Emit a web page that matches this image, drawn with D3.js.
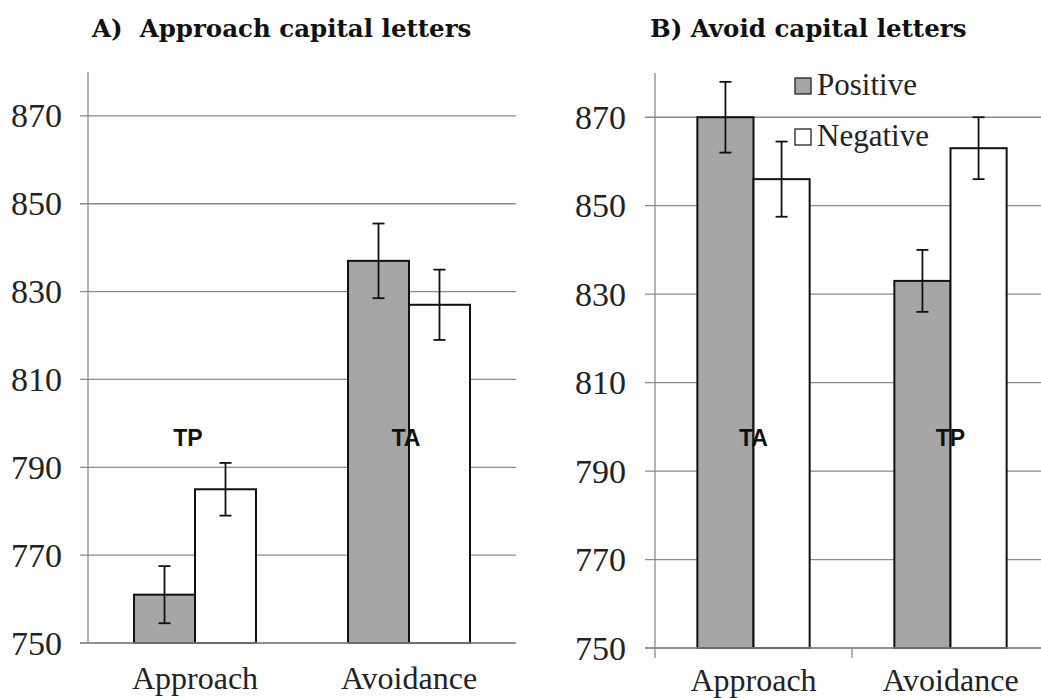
<!DOCTYPE html>
<html>
<head>
<meta charset="utf-8">
<script src="https://cdn.jsdelivr.net/npm/d3@7"></script>
<style>
  html, body { margin: 0; padding: 0; background: #fff; }
  svg { display: block; }
</style>
</head>
<body>
<svg id="chart" width="1041" height="698"></svg>
<script>
// Reaction times (ms) by task and valence
const categories = ["Approach", "Avoidance"];
const seriesNames = ["Positive", "Negative"];
const yTicks = [750, 770, 790, 810, 830, 850, 870];

const approachPositive = [761, 837];
const approachNegative = [785, 827];
const approachPositiveErr = [6.5, 8.5];
const approachNegativeErr = [6, 8];
const approachTags = ["TP", "TA"];

const avoidPositive = [870, 833];
const avoidNegative = [856, 863];
const avoidPositiveErr = [8, 7];
const avoidNegativeErr = [8.5, 7];
const avoidTags = ["TA", "TP"];

const fills = { Positive: "#a6a6a6", Negative: "#ffffff" };
const gridColor = "#8a8a8a";
const SERIF = '"Liberation Serif", "Times New Roman", Times, serif';
const TITLE_FONT = '"DejaVu Serif", serif';
const SANS = '"Liberation Sans", Arial, sans-serif';

const svg = d3.select("#chart");

function drawPanel(p) {
  const g = svg.append("g");
  const y = d3.scaleLinear().domain([750, 880]).range([p.bottom, p.top]);
  const x0 = d3.scaleBand().domain(categories)
    .range([p.left, p.right]).paddingInner(0.43).paddingOuter(0.215);
  const x1 = d3.scaleBand().domain(seriesNames).range([0, x0.bandwidth()]);
  const step = x0.step();

  // horizontal gridlines with tick stubs on the left
  g.selectAll("line.grid").data(yTicks).join("line")
    .attr("x1", p.left - p.tickLen).attr("x2", p.gridEnd)
    .attr("y1", d => y(d)).attr("y2", d => y(d))
    .attr("stroke", gridColor).attr("stroke-width", 1.3);

  // y axis line
  g.append("line")
    .attr("x1", p.left).attr("x2", p.left)
    .attr("y1", p.top).attr("y2", p.bottom + (p.catTicks ? 10 : 0))
    .attr("stroke", gridColor).attr("stroke-width", 1.3);

  if (p.catTicks) {
    g.append("line")
      .attr("x1", p.left + step).attr("x2", p.left + step)
      .attr("y1", p.bottom).attr("y2", p.bottom + 10)
      .attr("stroke", gridColor).attr("stroke-width", 1.3);
  }

  // tick labels
  g.selectAll("text.tick").data(yTicks).join("text")
    .attr("x", p.labelX).attr("y", d => y(d))
    .attr("dy", "0.34em").attr("text-anchor", "end")
    .style("font-family", SERIF).style("font-size", "34px")
    .attr("fill", "#222").text(d => d);

  // bars
  const rows = categories.map((c, i) => ({
    cat: c,
    vals: [
      { s: "Positive", v: p.pos[i], e: p.posErr[i] },
      { s: "Negative", v: p.neg[i], e: p.negErr[i] }
    ]
  }));
  const cg = g.selectAll("g.cat").data(rows).join("g")
    .attr("transform", d => `translate(${x0(d.cat)},0)`);
  cg.selectAll("rect").data(d => d.vals).join("rect")
    .attr("x", d => x1(d.s)).attr("width", x1.bandwidth())
    .attr("y", d => y(d.v)).attr("height", d => y(750) - y(d.v))
    .attr("fill", d => fills[d.s]).attr("stroke", "#111").attr("stroke-width", 2);

  // error bars
  const eb = cg.selectAll("g.err").data(d => d.vals).join("g")
    .attr("transform", d => `translate(${x1(d.s) + x1.bandwidth() / 2},0)`);
  eb.append("line").attr("x1", 0).attr("x2", 0)
    .attr("y1", d => y(d.v + d.e)).attr("y2", d => y(d.v - d.e));
  eb.append("line").attr("x1", -6).attr("x2", 6)
    .attr("y1", d => y(d.v + d.e)).attr("y2", d => y(d.v + d.e));
  eb.append("line").attr("x1", -6).attr("x2", 6)
    .attr("y1", d => y(d.v - d.e)).attr("y2", d => y(d.v - d.e));
  eb.selectAll("line").attr("stroke", "#111").attr("stroke-width", 1.8);

  // condition tags
  g.selectAll("text.tag").data(categories).join("text")
    .attr("x", (d, i) => x0(d) + x0.bandwidth() / 2 + p.tagShift[i])
    .attr("y", 446).attr("text-anchor", "middle")
    .style("font-family", SANS).style("font-weight", "bold").style("font-size", "23px")
    .attr("fill", "#111").text((d, i) => p.tags[i]);

  // x axis line
  g.append("line")
    .attr("x1", p.left - p.tickLen).attr("x2", p.gridEnd)
    .attr("y1", p.bottom).attr("y2", p.bottom)
    .attr("stroke", gridColor).attr("stroke-width", 1.3);

  // category labels
  g.selectAll("text.cat").data(categories).join("text")
    .attr("x", d => x0(d) + x0.bandwidth() / 2).attr("y", p.catY)
    .attr("text-anchor", "middle")
    .style("font-family", SERIF).style("font-size", "32px")
    .attr("fill", "#222").text(d => d);

  // panel title
  g.append("text")
    .attr("x", p.titleX).attr("y", 37)
    .style("font-family", TITLE_FONT).style("font-weight", "bold")
    .style("font-size", "24.5px").style("white-space", "pre")
    .attr("fill", "#111")
    .text(p.title);

  return { x0, y };
}

drawPanel({
  title: "A)  Approach capital letters", titleX: 92,
  left: 88, right: 516, top: 72, bottom: 643, gridEnd: 516, tickLen: 8,
  labelX: 62, catY: 689, catTicks: false,
  pos: approachPositive, neg: approachNegative,
  posErr: approachPositiveErr, negErr: approachNegativeErr,
  tags: approachTags, tagShift: [-7, -3]
});

drawPanel({
  title: "B) Avoid capital letters", titleX: 650,
  left: 655, right: 1049, top: 73, bottom: 648, gridEnd: 1041, tickLen: 10,
  labelX: 626, catY: 691, catTicks: true,
  pos: avoidPositive, neg: avoidNegative,
  posErr: avoidPositiveErr, negErr: avoidNegativeErr,
  tags: avoidTags, tagShift: [0, 0]
});

// legend
const legend = svg.append("g");
const legendRows = [
  { s: "Positive", y: 95 },
  { s: "Negative", y: 146 }
];
legend.selectAll("rect").data(legendRows).join("rect")
  .attr("x", 795).attr("y", d => d.y - 17).attr("width", 16).attr("height", 16)
  .attr("fill", d => fills[d.s]).attr("stroke", "#222").attr("stroke-width", 1.3);
legend.selectAll("text").data(legendRows).join("text")
  .attr("x", 817).attr("y", d => d.y)
  .style("font-family", SERIF).style("font-size", "31px")
  .attr("fill", "#222").text(d => d.s);
</script>
</body>
</html>
